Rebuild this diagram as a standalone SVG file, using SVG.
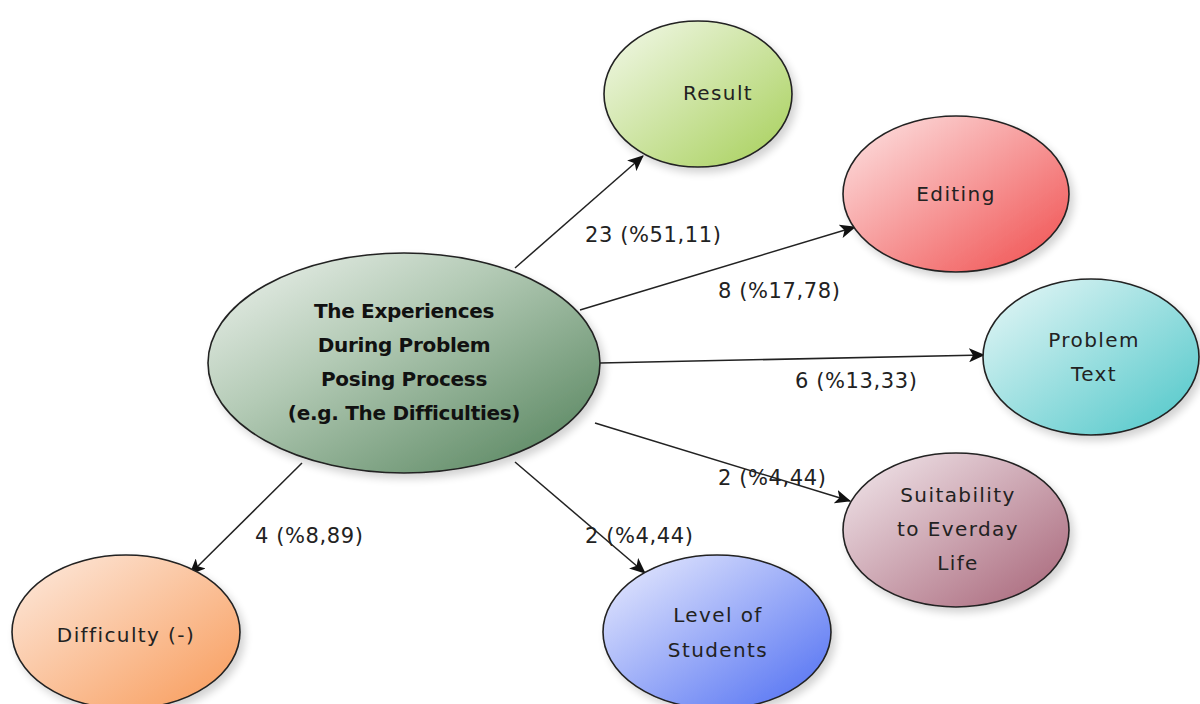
<svg xmlns="http://www.w3.org/2000/svg" width="1200" height="704" viewBox="0 0 1200 704">
<defs>
<linearGradient id="gC" x1="0" y1="0" x2="1" y2="1"><stop offset="0" stop-color="#f0f4f0"/><stop offset="0.4" stop-color="#b3cab5"/><stop offset="1" stop-color="#4f7f57"/></linearGradient>
<linearGradient id="gR" x1="0" y1="0" x2="1" y2="1"><stop offset="0" stop-color="#f4f9ec"/><stop offset="1" stop-color="#a6cf58"/></linearGradient>
<linearGradient id="gE" x1="0" y1="0" x2="1" y2="1"><stop offset="0" stop-color="#fde6e6"/><stop offset="1" stop-color="#f04c4c"/></linearGradient>
<linearGradient id="gP" x1="0" y1="0" x2="1" y2="1"><stop offset="0" stop-color="#eaf8f8"/><stop offset="1" stop-color="#4cc6c8"/></linearGradient>
<linearGradient id="gS" x1="0" y1="0" x2="1" y2="1"><stop offset="0" stop-color="#f3eaee"/><stop offset="1" stop-color="#a66276"/></linearGradient>
<linearGradient id="gL" x1="0" y1="0" x2="1" y2="1"><stop offset="0" stop-color="#eceefe"/><stop offset="1" stop-color="#4c6cf2"/></linearGradient>
<linearGradient id="gD" x1="0" y1="0" x2="1" y2="1"><stop offset="0" stop-color="#fdebe0"/><stop offset="1" stop-color="#f89a58"/></linearGradient>
<filter id="sh" x="-20%" y="-20%" width="150%" height="150%"><feGaussianBlur in="SourceAlpha" stdDeviation="4"/><feOffset dx="4" dy="5"/><feComponentTransfer><feFuncA type="linear" slope="0.18"/></feComponentTransfer><feMerge><feMergeNode/><feMergeNode in="SourceGraphic"/></feMerge></filter>
<marker id="ah" viewBox="0 0 16 14" refX="15" refY="7" markerWidth="16" markerHeight="14" markerUnits="userSpaceOnUse" orient="auto"><path d="M0,0 L16,7 L0,14 L4,7 Z" fill="#111"/></marker>
</defs>
<style>
.n{stroke:#222;stroke-width:1.6;filter:url(#sh)}
.t{font-family:"DejaVu Sans",Verdana,sans-serif;font-size:20px;fill:#222;text-anchor:middle;letter-spacing:1.4px}
.c{font-family:"DejaVu Sans",Verdana,sans-serif;font-size:20px;font-weight:bold;fill:#111;text-anchor:middle;letter-spacing:-0.3px}
.l{font-family:"DejaVu Sans",Verdana,sans-serif;font-size:21px;fill:#222;letter-spacing:0.6px}
.e{stroke:#222;stroke-width:1.5;fill:none}
</style>
<rect width="1200" height="704" fill="#fff"/>
<g id="connectors">
<line class="e" x1="515" y1="268" x2="643" y2="156" marker-end="url(#ah)"/>
<line class="e" x1="580" y1="310" x2="855" y2="227" marker-end="url(#ah)"/>
<line class="e" x1="600" y1="363" x2="984" y2="355" marker-end="url(#ah)"/>
<line class="e" x1="595" y1="423" x2="850" y2="501" marker-end="url(#ah)"/>
<line class="e" x1="515" y1="462" x2="645" y2="573" marker-end="url(#ah)"/>
<line class="e" x1="302" y1="463" x2="190" y2="574" marker-end="url(#ah)"/>
<text class="l" x="585" y="242">23 (%51,11)</text>
<text class="l" x="718" y="298">8 (%17,78)</text>
<text class="l" x="795" y="388">6 (%13,33)</text>
<text class="l" x="718" y="485">2 (%4,44)</text>
<text class="l" x="585" y="543">2 (%4,44)</text>
<text class="l" x="255" y="543">4 (%8,89)</text>
</g>
<g id="center"><ellipse class="n" cx="404" cy="363" rx="196" ry="110" fill="url(#gC)"/>
<text class="c" x="404" y="318">The Experiences</text>
<text class="c" x="404" y="352">During Problem</text>
<text class="c" x="404" y="386">Posing Process</text>
<text class="c" x="404" y="420">(e.g. The Difficulties)</text></g>
<g id="result"><ellipse class="n" cx="698" cy="94" rx="94" ry="73" fill="url(#gR)"/><text class="t" x="718" y="100">Result</text></g>
<g id="editing"><ellipse class="n" cx="956" cy="194" rx="113" ry="78" fill="url(#gE)"/><text class="t" x="956" y="201">Editing</text></g>
<g id="problem"><ellipse class="n" cx="1091" cy="357" rx="108" ry="78" fill="url(#gP)"/><text class="t" x="1094" y="347">Problem</text><text class="t" x="1094" y="381">Text</text></g>
<g id="suitability"><ellipse class="n" cx="956" cy="530" rx="113" ry="77" fill="url(#gS)"/><text class="t" x="958" y="502">Suitability</text><text class="t" x="958" y="536">to Everday</text><text class="t" x="958" y="570">Life</text></g>
<g id="level"><ellipse class="n" cx="717" cy="632" rx="114" ry="77" fill="url(#gL)"/><text class="t" x="718" y="622">Level of</text><text class="t" x="718" y="657">Students</text></g>
<g id="difficulty"><ellipse class="n" cx="126" cy="632" rx="114" ry="77" fill="url(#gD)"/><text class="t" x="126" y="642">Difficulty (-)</text></g>
</svg>
